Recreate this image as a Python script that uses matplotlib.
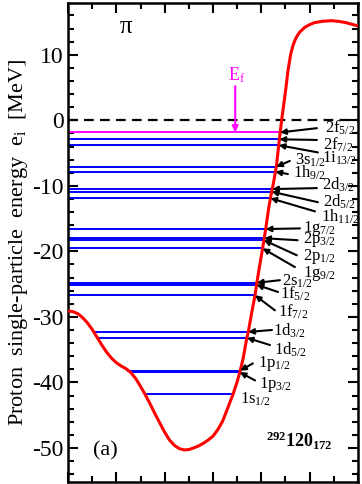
import numpy as np
import matplotlib
matplotlib.use('Agg')
import matplotlib.pyplot as plt

plt.rcParams['font.family'] = ['Liberation Serif', 'DejaVu Serif']
plt.rcParams['mathtext.fontset'] = 'custom'
plt.rcParams['mathtext.rm'] = 'Liberation Serif'
plt.rcParams['mathtext.it'] = 'Liberation Serif:italic'
plt.rcParams['mathtext.bf'] = 'Liberation Serif:bold'
plt.rcParams['axes.unicode_minus'] = False
plt.rcParams['lines.scale_dashes'] = False

# proton mean-field potential (radius in fm, MeV)
pot_r = [0.0, 0.2, 0.4, 0.6, 0.8, 1.0, 1.2, 1.4, 1.6, 1.8, 2.0, 2.2, 2.4, 2.6, 2.8,
         3.0, 3.2, 3.4, 3.6, 3.8, 4.0, 4.2, 4.4, 4.6, 4.8, 5.0, 5.2, 5.4, 5.6, 5.8,
         6.0, 6.2, 6.4, 6.6, 6.84, 7.0, 7.12, 7.25, 7.39, 7.46, 7.6, 7.74,
         7.81, 7.93, 8.05, 8.18, 8.3, 8.4, 8.5, 8.62, 8.72, 8.78, 8.84, 8.93, 9.02,
         9.1, 9.21, 9.3, 9.4, 9.5, 9.6, 9.8, 10.0, 10.2, 10.5, 10.9, 11.2, 11.5,
         11.8, 12.0]
pot_v = [-29.1, -29.2, -29.5, -30.1, -30.9, -31.9, -33.1, -34.3, -35.4, -36.3, -37.0,
         -37.5, -37.9, -38.5, -39.4, -40.6, -41.9, -43.3, -44.8, -46.2, -47.6, -48.8,
         -49.6, -50.1, -50.3, -50.25, -50.0, -49.7, -49.3, -48.8, -48.2, -47.2, -45.9,
         -44.0, -41.7, -39.9, -38.3, -36.3, -33.4, -32.3, -29.4, -26.7, -24.9,
         -22.2, -19.6, -16.6, -13.5, -11.4, -9.6, -7.1, -3.8, -1.85, 0.0, 2.5, 5.0,
         7.5, 10.0, 11.3, 12.3, 13.0, 13.5, 14.2, 14.6, 14.9, 15.1, 15.2, 15.1, 14.9,
         14.6, 14.4]

# single-particle levels
lev_e = [-1.85, -2.9, -3.8, -7.1, -7.85, -10.5, -10.9, -11.9, -16.6, -18.0, -18.3,
         -19.55, -24.8, -25.1, -26.7, -32.3, -33.2, -38.2, -38.45, -41.7]
lev_name = ['2f', '2f', '1i', '3s', '1h', '2d', '2d', '1h', '1g', '2p', '2p', '1g',
            '2s', '1f', '1f', '1d', '1d', '1p', '1p', '1s']
lev_j = ['5/2', '7/2', '13/2', '1/2', '9/2', '3/2', '5/2', '11/2', '7/2', '3/2', '1/2',
         '9/2', '1/2', '5/2', '7/2', '3/2', '5/2', '1/2', '3/2', '1/2']
# label text positions and arrow tails
lab_x = [10.63, 10.55, 10.5, 9.39, 9.32, 10.5, 10.54, 10.45, 9.74, 9.71, 9.71, 9.71,
         8.84, 8.77, 8.70, 8.50, 8.52, 7.87, 7.91, 7.12]
lab_y = [-1.9, -4.45, -6.5, -6.7, -8.7, -10.55, -13.2, -15.5, -17.1, -18.8, -21.3,
         -23.9, -25.2, -27.2, -30.0, -32.9, -35.7, -37.6, -40.9, -43.2]
tail_x = [10.3, 10.3, 10.34, 9.18, 9.1, 10.3, 10.34, 10.22, 9.6, 9.5, 9.47, 9.39,
          8.77, 8.69, 8.56, 8.44, 8.36, 7.65, 7.74, None]
tail_y = [-1.2, -3.0, -4.9, -6.2, -8.2, -10.35, -12.5, -13.9, -16.5, -18.3, -20.6,
          -22.4, -24.4, -26.2, -29.0, -32.0, -34.3, -37.1, -39.7, None]

e_fermi = -1.85

fig = plt.figure(figsize=(3.62, 4.84), dpi=100)
ax = fig.add_axes([68 / 362, 2 / 484, 290 / 362, 479 / 484])

r = np.array(pot_r)
v = np.array(pot_v)
imin = int(np.argmin(v))
imax = int(np.argmax(v))
for i, e in enumerate(lev_e):
    # level drawn between the classical turning points
    x1 = np.interp(e, v[imin:imax + 1], r[imin:imax + 1])
    if e >= v[0]:
        x0 = 0.0
    else:
        x0 = np.interp(e, v[:imin + 1][::-1], r[:imin + 1][::-1])
    col = '#ff00ff' if e == e_fermi else '#0000ff'
    ax.plot([x0, x1], [e, e], color=col, lw=1.4, zorder=2)
    ax.text(lab_x[i], lab_y[i], r'$\mathrm{%s}_{%s}$' % (lev_name[i], lev_j[i]),
            fontsize=12, ha='left', va='baseline')
    if tail_x[i] is not None:
        ax.annotate('', xy=(x1, e), xytext=(tail_x[i], tail_y[i]),
                    arrowprops=dict(arrowstyle='-|>', color='k', lw=1.5,
                                    mutation_scale=8, shrinkA=0, shrinkB=0), zorder=4)

ax.plot(pot_r, pot_v, color='#ff0000', lw=2.2, zorder=3)
ax.axhline(0, color='k', lw=1.6, dashes=(7, 4.5), zorder=1)

ax.annotate('', xy=(6.92, e_fermi), xytext=(6.92, 5.2),
            arrowprops=dict(arrowstyle='-|>', color='#ff00ff', lw=1.5,
                            mutation_scale=9, shrinkA=0, shrinkB=0))
ax.text(6.97, 6.1, r'$\mathrm{E}_{\mathrm{f}}$', color='#ff00ff', fontsize=13,
        ha='center', va='baseline')

ax.text(2.15, 13.3, 'π', fontsize=18, va='baseline')
ax.text(1.03, -51.1, '(a)', fontsize=16, va='baseline')
ax.text(8.2, -49.9, r'$^{\mathbf{292}}\mathbf{120}_{\mathbf{172}}$', fontsize=13,
        va='baseline')

ax.set_xlim(0, 12)
ax.set_ylim(-55.2, 17.9)
ax.set_xticks(np.arange(0, 13, 2))
ax.set_xticks(np.arange(0, 13, 1), minor=True)
ax.set_yticks([-50, -40, -30, -20, -10, 0, 10])
ax.set_yticks(np.arange(-54, 18, 2), minor=True)
ax.tick_params(axis='x', which='both', labelbottom=False)
ax.tick_params(which='both', direction='in', top=True, right=True, width=1.5)
ax.tick_params(which='major', length=7, labelsize=17, pad=3)
ax.tick_params(which='minor', length=4)
for s in ax.spines.values():
    s.set_linewidth(1.8)

ax.set_ylabel(r'Proton  single-particle  energy  e$_{\mathrm{i}}$  [MeV]',
              fontsize=16, labelpad=2)

fig.savefig('out.png', dpi=100)
